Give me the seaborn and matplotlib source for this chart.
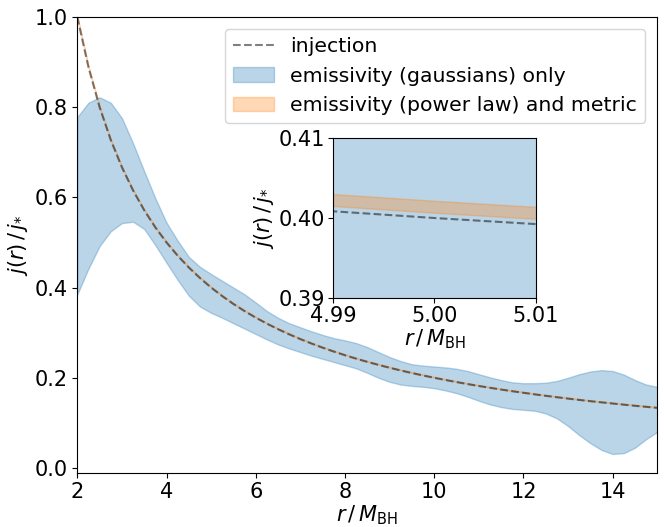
import numpy as np
import matplotlib
matplotlib.use("Agg")
import matplotlib.pyplot as plt
import seaborn as sns

# radius grid (r / M_BH)
r = [2.00, 2.25, 2.50, 2.75, 3.00, 3.25, 3.50, 3.75, 4.00, 4.25, 4.50, 4.75,
     5.00, 5.25, 5.50, 5.75, 6.00, 6.25, 6.50, 6.75, 7.00, 7.25, 7.50, 7.75,
     8.00, 8.25, 8.50, 8.75, 9.00, 9.25, 9.50, 9.75, 10.00, 10.25, 10.50, 10.75,
     11.00, 11.25, 11.50, 11.75, 12.00, 12.25, 12.50, 12.75, 13.00, 13.25, 13.50,
     13.75, 14.00, 14.25, 14.50, 14.75, 15.00]

# injected emissivity profile
injection = [1.0000, 0.8889, 0.8000, 0.7273, 0.6667, 0.6154, 0.5714, 0.5333,
             0.5000, 0.4706, 0.4444, 0.4211, 0.4000, 0.3810, 0.3636, 0.3478,
             0.3333, 0.3200, 0.3077, 0.2963, 0.2857, 0.2759, 0.2667, 0.2581,
             0.2500, 0.2424, 0.2353, 0.2286, 0.2222, 0.2162, 0.2105, 0.2051,
             0.2000, 0.1951, 0.1905, 0.1860, 0.1818, 0.1778, 0.1739, 0.1702,
             0.1667, 0.1633, 0.1600, 0.1569, 0.1538, 0.1509, 0.1481, 0.1455,
             0.1429, 0.1404, 0.1379, 0.1356, 0.1333]

# gaussian-emissivity fit band
gauss_hi = [0.778, 0.810, 0.822, 0.810, 0.776, 0.720, 0.658, 0.598, 0.544, 0.504,
            0.468, 0.446, 0.430, 0.415, 0.400, 0.385, 0.367, 0.348, 0.333, 0.321,
            0.312, 0.303, 0.295, 0.288, 0.283, 0.277, 0.268, 0.257, 0.246, 0.237,
            0.230, 0.227, 0.225, 0.223, 0.220, 0.215, 0.208, 0.201, 0.195, 0.190,
            0.188, 0.188, 0.189, 0.193, 0.200, 0.208, 0.214, 0.217, 0.215, 0.207,
            0.195, 0.185, 0.180]
gauss_lo = [0.385, 0.442, 0.492, 0.525, 0.543, 0.546, 0.530, 0.494, 0.455, 0.417,
            0.382, 0.358, 0.344, 0.333, 0.321, 0.309, 0.297, 0.285, 0.274, 0.265,
            0.257, 0.249, 0.242, 0.235, 0.228, 0.221, 0.211, 0.200, 0.191, 0.185,
            0.182, 0.180, 0.177, 0.172, 0.166, 0.158, 0.149, 0.141, 0.135, 0.131,
            0.129, 0.127, 0.121, 0.110, 0.093, 0.073, 0.055, 0.040, 0.031, 0.033,
            0.045, 0.064, 0.080]

# power-law emissivity + metric fit band
pl_hi = [1.0021, 0.8910, 0.8021, 0.7294, 0.6688, 0.6175, 0.5735, 0.5354,
         0.5021, 0.4727, 0.4465, 0.4232, 0.4021, 0.3831, 0.3657, 0.3499,
         0.3354, 0.3221, 0.3098, 0.2984, 0.2878, 0.2780, 0.2688, 0.2602,
         0.2521, 0.2445, 0.2374, 0.2307, 0.2243, 0.2183, 0.2126, 0.2072,
         0.2021, 0.1972, 0.1926, 0.1881, 0.1839, 0.1799, 0.1760, 0.1723,
         0.1688, 0.1654, 0.1621, 0.1590, 0.1559, 0.1530, 0.1502, 0.1476,
         0.1450, 0.1425, 0.1400, 0.1377, 0.1354]
pl_lo = [1.0006, 0.8895, 0.8006, 0.7279, 0.6673, 0.6160, 0.5720, 0.5339,
         0.5006, 0.4712, 0.4450, 0.4217, 0.4006, 0.3816, 0.3642, 0.3484,
         0.3339, 0.3206, 0.3083, 0.2969, 0.2863, 0.2765, 0.2673, 0.2587,
         0.2506, 0.2430, 0.2359, 0.2292, 0.2228, 0.2168, 0.2111, 0.2057,
         0.2006, 0.1957, 0.1911, 0.1866, 0.1824, 0.1784, 0.1745, 0.1708,
         0.1673, 0.1639, 0.1606, 0.1575, 0.1544, 0.1515, 0.1487, 0.1461,
         0.1435, 0.1410, 0.1385, 0.1362, 0.1339]

sns.set_style("ticks", {'axes.edgecolor': 'black', 'xtick.color': 'black',
                        'ytick.color': 'black', 'text.color': 'black',
                        'axes.labelcolor': 'black'})
plt.rcParams['font.family'] = ['DejaVu Sans']
plt.rcParams['font.size'] = 15
plt.rcParams['mathtext.fontset'] = 'dejavusans'

blue, orange = sns.color_palette()[0], sns.color_palette()[1]
fs = 15

fig = plt.figure(figsize=(6.64, 5.27), dpi=100)
ax = fig.add_axes([0.1164, 0.103, 0.8735, 0.8647])
axin = fig.add_axes([0.5015, 0.4345, 0.3057, 0.3036])


def draw(a, legend):
    sns.lineplot(x=r, y=injection, ax=a, color='k', alpha=0.5, linestyle='--',
                 linewidth=1.5, label='injection' if legend else None,
                 zorder=3)
    a.fill_between(r, gauss_lo, gauss_hi, color=blue, alpha=0.3, linewidth=1,
                   label='emissivity (gaussians) only')
    a.fill_between(r, pl_lo, pl_hi, color=orange, alpha=0.3, linewidth=1,
                   label='emissivity (power law) and metric')


draw(ax, True)
ax.set_xlim(2, 15)
ax.set_ylim(-0.0105, 1.0)
ax.set_xticks([2, 4, 6, 8, 10, 12, 14])
ax.set_yticks([0.0, 0.2, 0.4, 0.6, 0.8, 1.0])
ax.set_xlabel(r'$r\,/\,M_{\rm BH}$', fontsize=fs, labelpad=1)
ax.set_ylabel(r'$j(r)\,/\,j_{*}$', fontsize=fs, labelpad=3)
ax.tick_params(labelsize=fs)
ax.legend(loc='upper right', fontsize=14.7, frameon=True, framealpha=0.8,
          fancybox=True, edgecolor='0.8', borderaxespad=0.6)

draw(axin, False)
axin.set_xlim(4.99, 5.01)
axin.set_ylim(0.39, 0.41)
axin.set_xticks([4.99, 5.00, 5.01])
axin.set_xticklabels(['4.99', '5.00', '5.01'])
axin.set_yticks([0.39, 0.40, 0.41])
axin.set_yticklabels(['0.39', '0.40', '0.41'])
axin.set_xlabel(r'$r\,/\,M_{\rm BH}$', fontsize=fs, labelpad=1)
axin.set_ylabel(r'$j(r)\,/\,j_{*}$', fontsize=fs, labelpad=2)
axin.tick_params(labelsize=fs, pad=2)
if axin.get_legend() is not None:
    axin.get_legend().remove()

fig.savefig('out.png', dpi=100)
